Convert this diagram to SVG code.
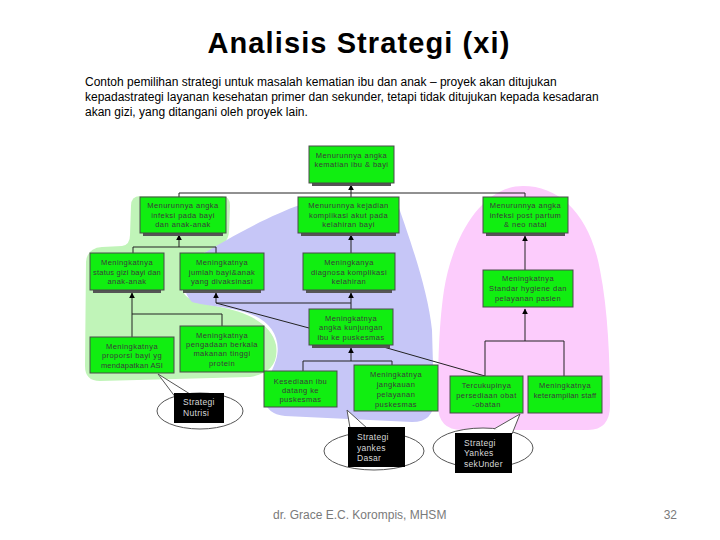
<svg xmlns="http://www.w3.org/2000/svg" width="720" height="540" viewBox="0 0 720 540">
<defs>
<style>
.bx{fill:#11ee11;stroke:#4a4a4a;stroke-width:1}
.sh{fill:#555}
.t{font-family:"Liberation Sans",Arial,sans-serif;font-size:7.5px;fill:#3a3a3a;letter-spacing:0.45px;text-anchor:middle}
.n{letter-spacing:0.2px}
.c{fill:none;stroke:#222;stroke-width:1}
.ar{fill:none;stroke:#222;stroke-width:1;marker-end:url(#ah)}
.el{fill:#fff;stroke:#555;stroke-width:1}
.bk{fill:#000}
.bt{font-family:"Liberation Sans",Arial,sans-serif;font-size:8.5px;fill:#d8d8d8;letter-spacing:0.3px}
</style>
<marker id="ah" viewBox="0 0 10 10" refX="9" refY="5" markerWidth="6" markerHeight="6" orient="auto" markerUnits="userSpaceOnUse">
<path d="M0,0 L10,5 L0,10 Z" fill="#000"/>
</marker>
</defs>
<rect x="0" y="0" width="720" height="540" fill="#fff"/>
<text x="359" y="53" font-family="Liberation Sans, Arial, sans-serif" font-size="29" font-weight="bold" letter-spacing="1.1" text-anchor="middle" fill="#000">Analisis Strategi (xi)</text>
<g font-family="Liberation Sans, Arial, sans-serif" font-size="12" fill="#000">
<text x="85" y="86">Contoh pemilihan strategi untuk masalah kematian ibu dan anak –  proyek akan ditujukan</text>
<text x="85" y="101">kepadastrategi layanan kesehatan primer dan sekunder, tetapi tidak ditujukan kepada kesadaran</text>
<text x="85" y="116">akan gizi, yang ditangani oleh proyek lain.</text>
</g>

<g id="regions">
<path fill="#c0f4b8" d="M140 196 L222 196 Q230 196 230 206 L229 232 Q228 245 212 250 C195 255 182 262 181 280 C180 298 192 302 215 306 C250 312 272 325 276 345 C279 365 268 374 250 377 L100 381 Q85 381 85 366 L86 262 Q87 248 102 247 L122 246 Q130 245 130 235 L131 206 Q131 196 140 196 Z"/>
<path fill="#c6c6f7" d="M300 205 L398 205 C410 240 428 290 432 330 L434 400 Q434 422 412 422 L285 416 Q266 414 264 398 C262 385 270 378 276 360 C282 340 272 322 250 314 C228 306 205 306 192 302 C180 290 182 268 198 257 C225 240 270 215 300 205 Z"/>
<path fill="#fcccfc" d="M523 186 C480 186 452 240 444 290 C438 330 438 380 438 405 Q438 430 462 430 L588 430 Q610 430 610 405 C610 360 608 310 600 270 C590 215 560 186 523 186 Z"/>
</g>

<g id="connectors">
<path class="c" d="M179 193 L525 193 M179 193 L179 197 M351 193 L351 197 M525 193 L525 197"/>
<path class="ar" d="M351 193 L351 185"/>
<path class="c" d="M133 247 L216 247 M133 247 L133 253 M216 247 L216 253"/>
<path class="ar" d="M179 247 L179 235"/>
<path class="ar" d="M351 253 L351 235"/>
<path class="ar" d="M525 270 L525 236"/>
<path class="c" d="M132 314 L222 314 M132 314 L132 337 M222 314 L222 326"/>
<path class="ar" d="M132 314 L132 293"/>
<path class="c" d="M216 303 L351 303 M216 303 L309 328"/>
<path class="ar" d="M216 303 L216 293"/>
<path class="ar" d="M351 309 L351 293"/>
<path class="c" d="M303 361 L392 361 M303 361 L303 371 M392 361 L392 366"/>
<path class="ar" d="M351 361 L351 348"/>
<path class="c" d="M380 346 L485 376"/>
<path class="c" d="M485 341 L564 341 M485 341 L485 376 M564 341 L564 376"/>
<path class="ar" d="M525 341 L525 309"/>
</g>

<g id="n1"><rect class="sh" x="312" y="183" width="79" height="3"/><rect class="bx" x="309" y="146" width="85" height="37"/><text class="t" x="351.5" y="158">Menurunnya angka</text><text class="t" x="351.5" y="167">kematian ibu &amp; bayi</text></g>
<g id="n2"><rect class="sh" x="143" y="233" width="80" height="3"/><rect class="bx" x="140" y="197" width="86" height="36"/><text class="t" x="183" y="207.5">Menurunnya angka</text><text class="t" x="183" y="217.5">infeksi pada bayi</text><text class="t" x="183" y="226.5">dan anak-anak</text></g>
<g id="n3"><rect class="sh" x="301" y="233" width="95" height="3"/><rect class="bx" x="298" y="197" width="101" height="36"/><text class="t" x="348.5" y="207.5">Menurunnya kejadian</text><text class="t" x="348.5" y="217.5">komplikasi akut pada</text><text class="t" x="348.5" y="226.5">kelahiran bayi</text></g>
<g id="n4"><rect class="sh" x="486" y="233" width="79" height="3"/><rect class="bx" x="483" y="197" width="85" height="36"/><text class="t" x="525.5" y="207.5">Menurunnya angka</text><text class="t" x="525.5" y="217.5">infeksi post partum</text><text class="t" x="525.5" y="226.5">&amp; neo natal</text></g>
<g id="n5"><rect class="sh" x="93" y="290" width="68" height="3"/><rect class="bx" x="90" y="253" width="74" height="37"/><text class="t" x="127" y="264.5">Meningkatnya</text><text class="t n" x="127" y="274.5">status gizi bayi dan</text><text class="t" x="127" y="283.5">anak-anak</text></g>
<g id="n6"><rect class="sh" x="183" y="290" width="78" height="3"/><rect class="bx" x="180" y="253" width="84" height="37"/><text class="t" x="222" y="264.5">Meningkatnya</text><text class="t" x="222" y="274.5">jumlah bayi&amp;anak</text><text class="t" x="222" y="283.5">yang divaksinasi</text></g>
<g id="n7"><rect class="sh" x="306" y="290" width="86" height="3"/><rect class="bx" x="303" y="253" width="92" height="37"/><text class="t" x="349" y="264.5">Meningkanya</text><text class="t" x="349" y="274.5">diagnosa komplikasi</text><text class="t" x="349" y="283.5">kelahiran</text></g>
<g id="n8"><rect class="bx" x="483" y="270" width="90" height="37"/><text class="t" x="528" y="280.5">Meningkatnya</text><text class="t" x="528" y="290.5">Standar hygiene dan</text><text class="t" x="528" y="300.5">pelayanan pasien</text></g>
<g id="n9"><rect class="sh" x="312" y="345" width="78" height="3"/><rect class="bx" x="309" y="309" width="84" height="36"/><text class="t" x="351" y="320.5">Meningkatnya</text><text class="t" x="351" y="329.5">angka kunjungan</text><text class="t" x="351" y="339.5">ibu ke puskesmas</text></g>
<g id="n10"><rect class="bx" x="90" y="337" width="84" height="36"/><text class="t" x="132" y="348.5">Meningkatnya</text><text class="t" x="132" y="357.5">proporsi bayi yg</text><text class="t n" x="132" y="367.5">mendapatkan ASI</text></g>
<g id="n11"><rect class="bx" x="180" y="326" width="84" height="46"/><text class="t" x="222" y="337.5">Meningkatnya</text><text class="t" x="222" y="346.5">pengadaan berkala</text><text class="t" x="222" y="355.5">makanan tinggi</text><text class="t" x="222" y="365.5">protein</text></g>
<g id="n12"><rect class="bx" x="264" y="371" width="73" height="36"/><text class="t" x="300.5" y="383.5">Kesediaan ibu</text><text class="t" x="300.5" y="392.5">datang ke</text><text class="t" x="300.5" y="401.5">puskesmas</text></g>
<g id="n13"><rect class="bx" x="354" y="365" width="84" height="46"/><text class="t" x="396" y="376.5">Meningkatnya</text><text class="t" x="396" y="386.5">jangkauan</text><text class="t" x="396" y="396.5">pelayanan</text><text class="t" x="396" y="406.5">puskesmas</text></g>
<g id="n14"><rect class="bx" x="450" y="376" width="73" height="37"/><text class="t" x="486.5" y="387.5">Tercukupinya</text><text class="t" x="486.5" y="397.5">persediaan obat</text><text class="t" x="486.5" y="406.5">-obatan</text></g>
<g id="n15"><rect class="bx" x="528" y="376" width="74" height="37"/><text class="t" x="565" y="387.5">Meningkatnya</text><text class="t n" x="565" y="397.5">keterampilan staff</text></g>

<g id="callout-nutrisi">
<ellipse class="el" cx="200" cy="411" rx="43" ry="18"/>
<path fill="#fff" stroke="#555" d="M176 398 L158 374 L190 394"/>
<rect class="bk" x="174" y="393" width="50" height="30"/>
<text class="bt" x="183" y="405">Strategi</text><text class="bt" x="183" y="416">Nutrisi</text>
</g>
<g id="callout-dasar">
<ellipse class="el" cx="374" cy="451" rx="50" ry="19"/>
<path fill="#fff" stroke="#555" d="M350 428 L347 410 L368 429"/>
<rect class="bk" x="348" y="427" width="57" height="40"/>
<text class="bt" x="357" y="440">Strategi</text><text class="bt" x="357" y="451">yankes</text><text class="bt" x="357" y="461">Dasar</text>
</g>
<g id="callout-sekunder">
<ellipse class="el" cx="483" cy="448" rx="50" ry="20"/>
<path fill="#fff" stroke="#555" d="M494 429 L520 414 L512 434"/>
<rect class="bk" x="455" y="433" width="57" height="40"/>
<text class="bt" x="464" y="446">Strategi</text><text class="bt" x="464" y="456">Yankes</text><text class="bt" x="464" y="467">sekUnder</text>
</g>

<g font-family="Liberation Sans, Arial, sans-serif" font-size="12" fill="#7a7a7a">
<text x="273" y="519">dr. Grace E.C. Korompis, MHSM</text>
<text x="677" y="519" text-anchor="end">32</text>
</g>
</svg>
